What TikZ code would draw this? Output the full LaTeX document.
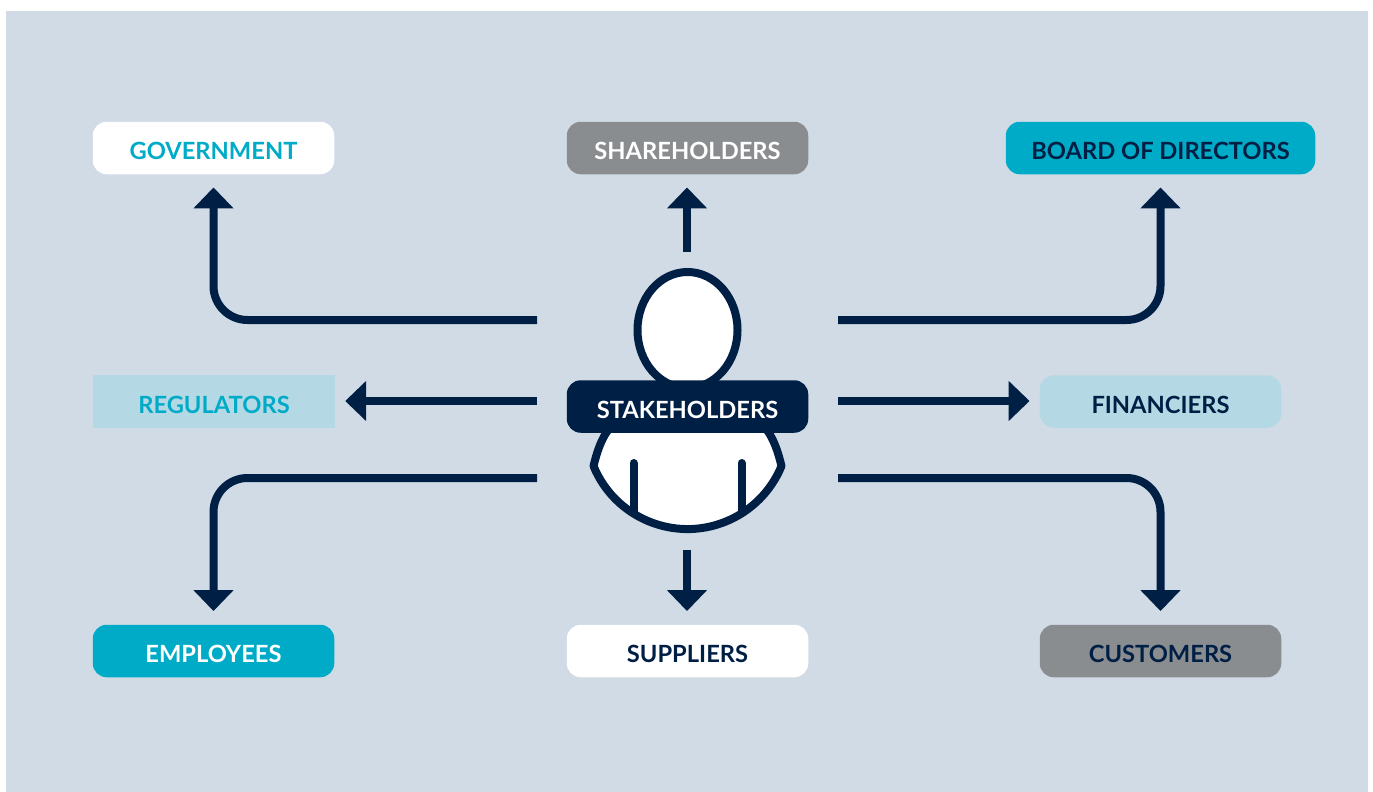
\documentclass[tikz,border=0pt]{standalone}
\usepackage{fontspec}
\setmainfont{Lato}
\usetikzlibrary{arrows.meta}
\definecolor{bgblue}{HTML}{D1DBE6}
\definecolor{navy}{HTML}{001F45}
\definecolor{teal}{HTML}{00ABC8}
\definecolor{greybox}{HTML}{8A8D90}
\definecolor{paleblue}{HTML}{B4D9E4}
\tikzset{
  lbl/.style={minimum height=52.5pt,inner sep=0pt,font=\fontsize{23.7}{24}\selectfont\bfseries,text height=23pt,text depth=0pt,anchor=center},
  pill/.style={lbl,rounded corners=14pt,minimum width=241.5pt},
  conn/.style={draw=navy,line width=8pt,-{Triangle[width=39pt,length=21pt]},rounded corners=34pt},
  outline/.style={draw=navy,line width=8pt,fill=white}
}
\begin{document}
\begin{tikzpicture}[x=1pt,y=-1pt]
\useasboundingbox (0,0) rectangle (1373,792);
\fill[white] (0,0) rectangle (1373,792);
\fill[bgblue] (6,11) rectangle (1368,792);
% person
\path[outline,line join=round] (612,425) -- (606,433) .. controls (600,443) and (597,452) .. (593.5,466) arc [start angle=157.7,end angle=22.3,radius=101.6] .. controls (778,452) and (775,443) .. (769,433) -- (763,425) -- cycle;
\draw[navy,line width=8pt,line cap=round] (633.5,463) -- (633.5,513);
\draw[navy,line width=8pt,line cap=round] (741.5,463) -- (741.5,513);
\path[outline] (687.5,330) ellipse [x radius=50,y radius=58];
% nodes
\node[pill,fill=white,text=teal] (government) at (213.5,148) {GOVERNMENT};
\node[pill,fill=greybox,text=white] (shareholders) at (687.5,148) {SHAREHOLDERS};
\node[pill,fill=teal,text=navy,minimum width=309.5pt] (board) at (1160.5,148) {BOARD OF DIRECTORS};
\node[lbl,fill=paleblue,text=teal,minimum width=242pt] (regulators) at (214,401.5) {REGULATORS};
\node[pill,fill=navy,text=white] (stakeholders) at (687.5,406.5) {STAKEHOLDERS};
\node[pill,fill=paleblue,text=navy] (financiers) at (1160.5,401.5) {FINANCIERS};
\node[pill,fill=teal,text=white] (employees) at (213.5,651) {EMPLOYEES};
\node[pill,fill=white,text=navy] (suppliers) at (687.5,651) {SUPPLIERS};
\node[pill,fill=greybox,text=navy] (customers) at (1160.5,651) {CUSTOMERS};
% free ends
\coordinate (gs) at (537,320);
\coordinate (bs) at (838,320);
\coordinate (rs) at (537,401);
\coordinate (fs) at (838,401);
\coordinate (es) at (537,478);
\coordinate (cs) at (838,478);
\coordinate (shs) at (687,252);
\coordinate (sus) at (687,550);
% connectors
\draw[conn,shorten >=13pt] (gs) -| (government.south);
\draw[conn,shorten >=13pt] (shs) -- (shs |- shareholders.south);
\draw[conn,shorten >=13pt] (bs) -| (board.south);
\draw[conn,shorten >=10pt] (rs) -- (rs -| regulators.east);
\draw[conn,shorten >=10pt] (fs) -- (fs -| financiers.west);
\draw[conn,shorten >=13.5pt] (es) -| (employees.north);
\draw[conn,shorten >=13.5pt] (sus) -- (sus |- suppliers.north);
\draw[conn,shorten >=13.5pt] (cs) -| (customers.north);
\end{tikzpicture}
\end{document}
